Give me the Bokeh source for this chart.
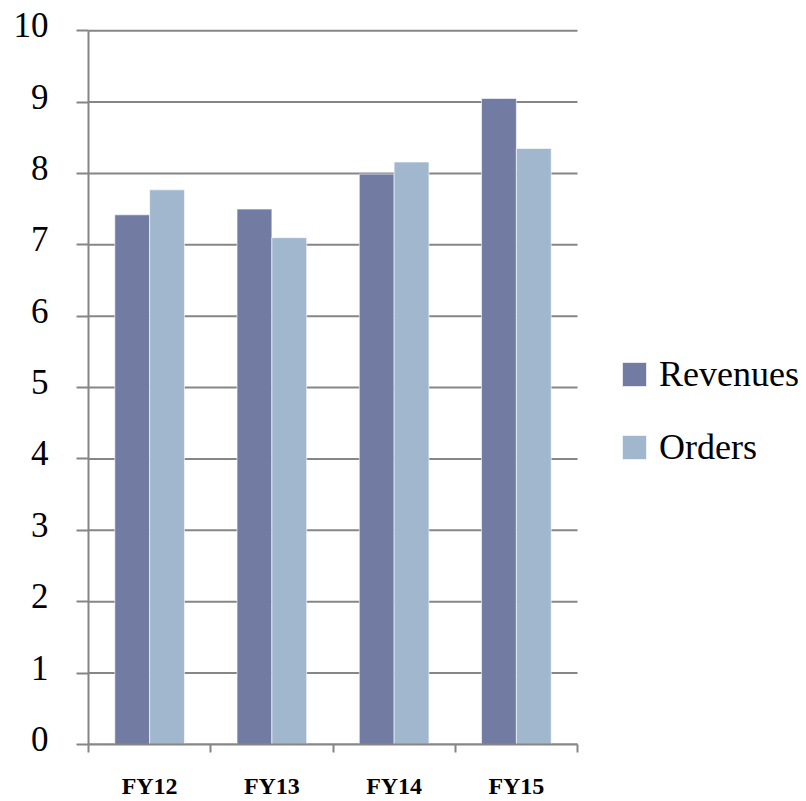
from bokeh.plotting import figure
from bokeh.models import (Range1d, FixedTicker, Legend, LegendItem, ColumnDataSource,
                          LinearAxis)
from bokeh.embed import file_html
from bokeh.resources import INLINE

# Fiscal-year comparison of revenues and orders
categories = ["FY12", "FY13", "FY14", "FY15"]
revenues = [7.42, 7.50, 7.99, 9.05]
orders = [7.77, 7.10, 8.16, 8.35]
y_ticks = [0, 1, 2, 3, 4, 5, 6, 7, 8, 9, 10]

REV_COLOR = "#727ca3"
ORD_COLOR = "#a1b7ce"
GRID_COLOR = "#868686"
BAR_W = 0.285

n = len(categories)
# the bar area spans 489 px of a 718 px wide frame; the rest holds the legend
x_end = n * 718 / 489
y_top = 10.1

centers = [i + 0.5 for i in range(n)]
src = ColumnDataSource(dict(
    cat=categories,
    rev_x=[c - BAR_W / 2 for c in centers],
    ord_x=[c + BAR_W / 2 for c in centers],
    rev=revenues,
    ords=orders,
))

p = figure(width=806, height=801, output_backend="svg", toolbar_location=None,
           x_range=Range1d(0, x_end), y_range=Range1d(0, y_top),
           min_border_left=88, min_border_right=0, min_border_top=23,
           min_border_bottom=57)
p.outline_line_color = None
p.background_fill_color = "white"
p.border_fill_color = "white"

# horizontal gridlines limited to the bar area
p.segment(x0=[0] * len(y_ticks), x1=[n] * len(y_ticks), y0=y_ticks, y1=y_ticks,
          line_color=GRID_COLOR, line_width=2)

r_rev = p.vbar(x="rev_x", top="rev", width=BAR_W, source=src,
               fill_color=REV_COLOR, line_color="white", line_width=0.6)
r_ord = p.vbar(x="ord_x", top="ords", width=BAR_W, source=src,
               fill_color=ORD_COLOR, line_color="white", line_width=0.6)

# y axis line and outward ticks (labels come from a second axis)
p.yaxis.bounds = (0, 10)
p.yaxis.ticker = FixedTicker(ticks=y_ticks)
p.yaxis.major_label_overrides = {t: "" for t in y_ticks}
p.yaxis.major_label_standoff = 0
p.yaxis.axis_line_color = GRID_COLOR
p.yaxis.axis_line_width = 2
p.yaxis.major_tick_line_color = GRID_COLOR
p.yaxis.major_tick_line_width = 2
p.yaxis.major_tick_out = 12
p.yaxis.major_tick_in = 0
p.yaxis.minor_tick_line_color = None

# serif tick numerals, set slightly above their gridlines
lift = 5.5 / 71.4
p.extra_y_ranges = {"labels": Range1d(0 - lift, y_top - lift)}
label_axis = LinearAxis(y_range_name="labels", ticker=FixedTicker(ticks=y_ticks),
                        axis_line_color=None, major_tick_line_color=None,
                        minor_tick_line_color=None, major_tick_out=0, major_tick_in=0,
                        major_label_text_font="Liberation Serif",
                        major_label_text_font_size="35px",
                        major_label_text_color="black",
                        major_label_standoff=28)
p.add_layout(label_axis, "left")

# x axis: boundary tick marks, category names between them
p.xaxis.bounds = (0, n)
p.xaxis.ticker = FixedTicker(ticks=centers, minor_ticks=list(range(n + 1)))
p.xaxis.major_label_overrides = {c: name for c, name in zip(centers, categories)}
p.xaxis.axis_line_color = GRID_COLOR
p.xaxis.axis_line_width = 2
p.xaxis.major_tick_line_color = None
p.xaxis.major_tick_out = 0
p.xaxis.major_tick_in = 0
p.xaxis.minor_tick_line_color = GRID_COLOR
p.xaxis.minor_tick_line_width = 2
p.xaxis.minor_tick_out = 8
p.xaxis.minor_tick_in = 0
p.xaxis.major_label_text_font = "Liberation Serif"
p.xaxis.major_label_text_font_style = "bold"
p.xaxis.major_label_text_font_size = "24px"
p.xaxis.major_label_text_color = "black"
p.xaxis.major_label_standoff = 20

p.xgrid.grid_line_color = None
p.ygrid.grid_line_color = None

legend = Legend(items=[LegendItem(label="Revenues", renderers=[r_rev]),
                       LegendItem(label="Orders", renderers=[r_ord])],
                location=(531, 276), orientation="vertical",
                label_text_font="Liberation Serif", label_text_font_size="36px",
                label_text_color="black", glyph_width=30, glyph_height=30,
                label_standoff=10, spacing=31, padding=0, margin=0,
                border_line_color=None, background_fill_alpha=0)
p.add_layout(legend, "center")

open("out.html", "w").write(file_html(p, INLINE))
